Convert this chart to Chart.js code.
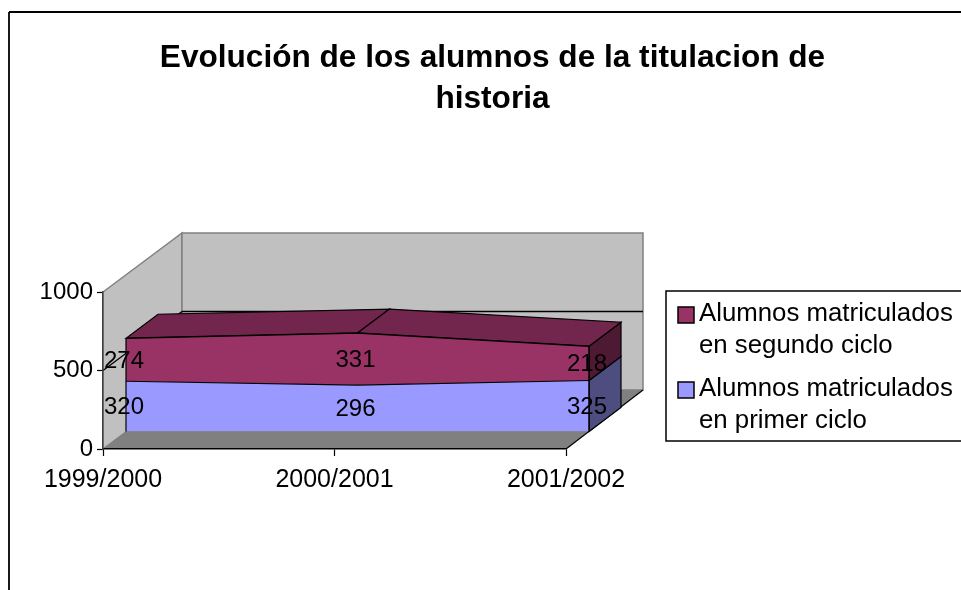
<!DOCTYPE html>
<html>
<head>
<meta charset="utf-8">
<title>Evolución de los alumnos</title>
<style>
  body { margin: 0; background: #fff; }
  canvas { display: block; }
</style>
</head>
<body>
<canvas id="chart" width="961" height="590"></canvas>
<script src="https://cdn.jsdelivr.net/npm/chart.js@4/dist/chart.umd.js"></script>
<script>
const titleLines = ["Evolución de los alumnos de la titulacion de", "historia"];
const categories = ["1999/2000", "2000/2001", "2001/2002"];
const primerCiclo = [320, 296, 325];
const segundoCiclo = [274, 331, 218];
const primerLabel = ["Alumnos matriculados", "en primer ciclo"];
const segundoLabel = ["Alumnos matriculados", "en segundo ciclo"];
const yTicks = [0, 500, 1000];

const FONT = '"Liberation Sans", Arial, sans-serif';

// 3D look: how far each plane sits from the axes
const front = { dx: 23, dy: -17.5 };   // front face of the areas
const rear = { dx: 55, dy: -41.5 };    // back face of the areas
const wall = { dx: 79, dxRight: 77, dy: -59 };      // back wall

const poly = (ctx, pts, fill, stroke, lw) => {
  ctx.beginPath();
  pts.forEach((p, i) => (i ? ctx.lineTo(p[0], p[1]) : ctx.moveTo(p[0], p[1])));
  ctx.closePath();
  if (fill) {
    ctx.fillStyle = fill;
    ctx.fill();
  }
  if (stroke) {
    ctx.strokeStyle = stroke;
    ctx.lineWidth = lw || 1;
    ctx.stroke();
  }
};

const seg = (ctx, x1, y1, x2, y2, color, lw) => {
  ctx.beginPath();
  ctx.moveTo(x1, y1);
  ctx.lineTo(x2, y2);
  ctx.strokeStyle = color;
  ctx.lineWidth = lw || 1;
  ctx.stroke();
};

// walls and floor go under the axes
const wallsPlugin = {
  id: "walls",
  beforeDraw(chart) {
    const { ctx, chartArea: a, scales: { y } } = chart;
    const backL = a.left + wall.dx;
    const backR = a.right + wall.dxRight;
    ctx.save();
    // outer frame, cut by the window on the right and at the bottom
    seg(ctx, 9, 12, 961, 12, "#000", 1.8);
    seg(ctx, 9, 12, 9, 590, "#000", 1.8);

    const b = y.getPixelForValue(0);
    const t = y.getPixelForValue(1000);
    poly(ctx, [[a.left, t], [backL, t + wall.dy], [backL, b + wall.dy], [a.left, b]], "#c0c0c0", "#808080", 1.5);
    poly(ctx, [[backL, t + wall.dy], [backR, t + wall.dy], [backR, b + wall.dy], [backL, b + wall.dy]], "#c0c0c0", "#808080", 1.5);
    poly(ctx, [[a.left, b], [a.right, b], [backR, b + wall.dy], [backL, b + wall.dy]], "#808080");
    seg(ctx, a.right, b, backR, b + wall.dy, "#000", 1.2);

    // gridline running over the left and back walls
    const g = y.getPixelForValue(500);
    seg(ctx, a.left, g, backL, g + wall.dy, "#000", 1.3);
    seg(ctx, backL, g + wall.dy, backR, g + wall.dy, "#000", 1.3);
    ctx.restore();
  }
};

// sides and tops of the areas, then shift the library's own drawing to the front plane
const depthPlugin = {
  id: "depth",
  beforeDatasetsDraw(chart) {
    const { ctx, scales: { y } } = chart;
    const low = chart.getDatasetMeta(0).data;
    const high = chart.getDatasetMeta(1).data;
    const base = y.getPixelForValue(0);
    const last = low.length - 1;
    const at = (p, o) => [p.x + o.dx, p.y + o.dy];

    ctx.save();
    // right side faces
    poly(ctx, [[low[last].x + front.dx, base + front.dy], at(low[last], front), at(low[last], rear), [low[last].x + rear.dx, base + rear.dy]], "#4d4d80", "#000", 1.2);
    poly(ctx, [at(low[last], front), at(high[last], front), at(high[last], rear), at(low[last], rear)], "#4d1933", "#000", 1.2);
    // top faces
    for (let i = 0; i < last; i++) {
      poly(ctx, [at(high[i], front), at(high[i + 1], front), at(high[i + 1], rear), at(high[i], rear)], "#73264d", "#000", 1.2);
    }
    ctx.restore();

    ctx.save();
    ctx.translate(front.dx, front.dy);
  },
  afterDatasetsDraw(chart) {
    const { ctx, scales: { y } } = chart;
    ctx.restore();

    const low = chart.getDatasetMeta(0).data;
    const high = chart.getDatasetMeta(1).data;
    const base = y.getPixelForValue(0);
    const last = low.length - 1;

    ctx.save();
    // vertical edges of the front face
    seg(ctx, low[0].x + front.dx, base + front.dy, high[0].x + front.dx, high[0].y + front.dy, "#000", 1.2);
    seg(ctx, low[last].x + front.dx, base + front.dy, high[last].x + front.dx, high[last].y + front.dy, "#000", 1.5);

    // value labels, centred in each band
    ctx.font = "24px " + FONT;
    ctx.fillStyle = "#000";
    ctx.textAlign = "center";
    ctx.textBaseline = "middle";
    low.forEach((p, i) => {
      ctx.fillText(String(primerCiclo[i]), p.x + front.dx - 2, (base + p.y) / 2 + front.dy + 1);
      ctx.fillText(String(segundoCiclo[i]), p.x + front.dx - 2, (p.y + high[i].y) / 2 + front.dy + 1.5);
    });
    ctx.restore();
  }
};

// legend with wrapped entries; it also reserves the space right of the plot
const legendPlugin = {
  id: "wrappedLegend",
  beforeInit(chart) {
    Chart.layouts.addBox(chart, {
      position: "right",
      weight: 0,
      fullSize: false,
      options: {},
      isHorizontal: () => false,
      update(maxWidth, maxHeight) {
        this.width = 395;
        this.height = maxHeight;
      },
      draw() {
        const ctx = chart.ctx;
        const entries = [
          { lines: segundoLabel, color: "#993366" },
          { lines: primerLabel, color: "#9999ff" }
        ];
        ctx.save();
        ctx.strokeStyle = "#000";
        ctx.lineWidth = 1.5;
        ctx.strokeRect(666, 291, 320, 150);
        ctx.font = "25.8px " + FONT;
        ctx.textBaseline = "middle";
        entries.forEach((entry, i) => {
          const top = 312 + i * 75;
          ctx.fillStyle = entry.color;
          ctx.fillRect(678, top - 5, 16, 16);
          ctx.strokeRect(678, top - 5, 16, 16);
          ctx.fillStyle = "#000";
          entry.lines.forEach((line, k) => ctx.fillText(line, 699, top + 2 + k * 32));
        });
        ctx.restore();
      }
    });
  }
};

new Chart(document.getElementById("chart"), {
  type: "line",
  data: {
    labels: categories,
    datasets: [
      {
        label: primerLabel.join(" "),
        data: primerCiclo,
        backgroundColor: "#9999ff",
        borderColor: "#000",
        borderWidth: 1.2,
        fill: "origin",
        clip: false
      },
      {
        label: segundoLabel.join(" "),
        data: segundoCiclo,
        backgroundColor: "#993366",
        borderColor: "#000",
        borderWidth: 1.5,
        fill: "-1",
        clip: false
      }
    ]
  },
  options: {
    responsive: false,
    animation: false,
    layout: { padding: { left: 24, top: 0, right: 0, bottom: 0 } },
    elements: { point: { radius: 0 }, line: { tension: 0 } },
    plugins: {
      legend: { display: false },
      tooltip: { enabled: false },
      title: {
        display: true,
        text: titleLines,
        color: "#000",
        font: { family: FONT, size: 31.6, weight: "bold", lineHeight: "41px" },
        padding: { top: 38, bottom: 172 }
      }
    },
    scales: {
      x: {
        offset: false,
        afterFit(scale) { scale.height = 141; },
        grid: { drawOnChartArea: false, color: "#000", tickLength: 7, tickWidth: 1.2 },
        border: { color: "#000", width: 1.5 },
        ticks: {
          color: "#000",
          padding: 9,
          maxRotation: 0,
          autoSkip: false,
          font: { family: FONT, size: 25 }
        }
      },
      y: {
        stacked: true,
        min: 0,
        max: 1000,
        afterFit(scale) { scale.width = 79; },
        afterBuildTicks(scale) { scale.ticks = yTicks.map((value) => ({ value })); },
        grid: { drawOnChartArea: false, color: "#000", tickLength: 6, tickWidth: 1.2 },
        border: { color: "#404040", width: 1.5 },
        ticks: {
          color: "#000",
          padding: 4,
          callback: (value) => String(value),
          font: { family: FONT, size: 24 }
        }
      }
    }
  },
  plugins: [wallsPlugin, depthPlugin, legendPlugin]
});
</script>
</body>
</html>
